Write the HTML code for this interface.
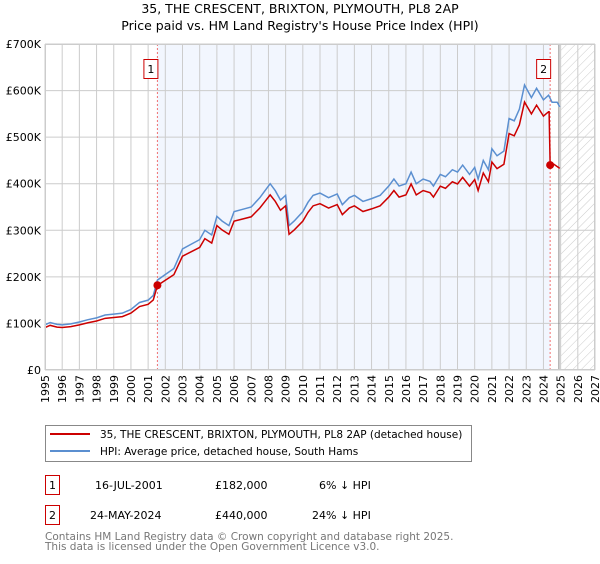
<!DOCTYPE html>
<html><head><meta charset="utf-8"><style>
body{margin:0;background:#fff;font-family:"DejaVu Sans","Liberation Sans",sans-serif;}
svg text{font-family:"DejaVu Sans","Liberation Sans",sans-serif;}
</style></head><body>
<svg id="chart" width="600" height="560" xmlns="http://www.w3.org/2000/svg">
<defs><pattern id="hatch" width="6" height="6" patternUnits="userSpaceOnUse" patternTransform="rotate(45)"><line x1="0" y1="0" x2="0" y2="6" stroke="#ccc" stroke-width="1"/></pattern></defs>
<text x="300" y="13" text-anchor="middle" font-size="12.5">35, THE CRESCENT, BRIXTON, PLYMOUTH, PL8 2AP</text>
<text x="300" y="30" text-anchor="middle" font-size="12.5">Price paid vs. HM Land Registry's House Price Index (HPI)</text>
<g id="plot"></g>
<g>
<rect x="45.5" y="425.5" width="426" height="36" fill="#fff" stroke="#888"/>
<line x1="50" y1="434" x2="90" y2="434" stroke="#cc0000" stroke-width="2"/>
<text x="100" y="438" font-size="10.5">35, THE CRESCENT, BRIXTON, PLYMOUTH, PL8 2AP (detached house)</text>
<line x1="50" y1="451" x2="90" y2="451" stroke="#5b8fd0" stroke-width="2"/>
<text x="100" y="455" font-size="10.5">HPI: Average price, detached house, South Hams</text>
</g>
<g font-size="11">
<rect x="45.5" y="475.5" width="14" height="19" fill="#fff" stroke="#cc0000"/><text x="52.5" y="489" text-anchor="middle">1</text>
<text x="95" y="489">16-JUL-2001</text><text x="215" y="489">£182,000</text><text x="319" y="489">6% ↓ HPI</text>
<rect x="45.5" y="505.5" width="14" height="19" fill="#fff" stroke="#cc0000"/><text x="52.5" y="519" text-anchor="middle">2</text>
<text x="90" y="519">24-MAY-2024</text><text x="215" y="519">£440,000</text><text x="312" y="519">24% ↓ HPI</text>
</g>
<text x="45" y="540" font-size="10.5" fill="#777">Contains HM Land Registry data © Crown copyright and database right 2025.</text>
<text x="45" y="550" font-size="10.5" fill="#777">This data is licensed under the Open Government Licence v3.0.</text>
</svg>
<script>
const hpiYears=[1995,1995.3,1995.7,1996,1996.5,1997,1997.5,1998,1998.5,1999,1999.5,2000,2000.5,2001,2001.3,2001.54,2002,2002.5,2003,2003.5,2004,2004.3,2004.7,2005,2005.3,2005.7,2006,2006.5,2007,2007.5,2007.8,2008.1,2008.4,2008.7,2009,2009.2,2009.5,2010,2010.3,2010.6,2011,2011.5,2012,2012.3,2012.7,2013,2013.5,2014,2014.5,2015,2015.3,2015.6,2016,2016.3,2016.6,2017,2017.4,2017.6,2018,2018.3,2018.7,2019,2019.3,2019.7,2020,2020.2,2020.5,2020.8,2021,2021.3,2021.7,2022,2022.3,2022.6,2022.9,2023.3,2023.6,2024,2024.3,2024.5,2024.8,2024.95];
const hpiValues=[97,102,98,97,99,103,108,112,118,120,122,130,145,150,160,193,205,218,260,270,280,300,290,330,320,310,340,345,350,370,385,400,385,365,375,310,320,340,360,375,380,370,378,355,370,375,362,368,375,395,410,395,400,425,400,410,405,395,420,415,430,425,440,420,435,410,450,430,475,460,470,540,535,560,612,585,605,580,590,575,575,565];
const saleYears=[2001.54,2024.39];
const saleValues=[182,440];
const redTailYears=[2024.39,2024.6,2024.95];
const redTailValues=[440,442,433];
const yTicks=[0,100,200,300,400,500,600,700];
const yTickLabels=['£0','£100K','£200K','£300K','£400K','£500K','£600K','£700K'];
const xTicks=[1995,1996,1997,1998,1999,2000,2001,2002,2003,2004,2005,2006,2007,2008,2009,2010,2011,2012,2013,2014,2015,2016,2017,2018,2019,2020,2021,2022,2023,2024,2025,2026,2027];
const X0=45,X1=595,Y0=370,Y1=44;
const xs=y=>X0+(y-1995)/(2027-1995)*(X1-X0);
const ys=v=>Y0-v/700*(Y0-Y1);
const NS='http://www.w3.org/2000/svg',g=document.getElementById('plot');
function mk(t,a){const e=document.createElementNS(NS,t);for(const k in a)e.setAttribute(k,a[k]);g.appendChild(e);return e;}
let e;
e=mk('rect',{x:xs(saleYears[0]),y:Y1,width:xs(saleYears[1])-xs(saleYears[0]),height:Y0-Y1,fill:'#eef3fd',opacity:0.75});


e=mk('rect',{x:xs(2025),y:Y1,width:X1-xs(2025),height:Y0-Y1,fill:'url(#hatch)'});


xTicks.forEach(t=>{const x=xs(t);e=mk('line',{x1:x,y1:Y1,x2:x,y2:Y0,stroke:'#ccc','stroke-width':1});


e=mk('text',{x:0,y:0,'font-size':11,'text-anchor':'end',transform:`translate(${x+4},${Y0+5}) rotate(-90)`});e.textContent=t;

});
yTicks.forEach((t,i)=>{const y=ys(t);e=mk('line',{x1:X0,y1:y,x2:X1,y2:y,stroke:'#ccc','stroke-width':1});


e=mk('text',{x:X0-4,y:y+4,'font-size':11,'text-anchor':'end'});e.textContent=yTickLabels[i];

});
e=mk('line',{x1:xs(2024.9),y1:Y1,x2:xs(2024.9),y2:Y0,stroke:'#888','stroke-width':1});


saleYears.forEach((s,i)=>{const x=xs(s);e=mk('line',{x1:x,y1:Y1,x2:x,y2:Y0,stroke:'#f07070','stroke-dasharray':'2,2','stroke-width':1});


e=mk('rect',{x:x-13.5,y:59.5,width:14,height:19,fill:'#fff',stroke:'#cc0000'});


e=mk('text',{x:x-6.5,y:73,'font-size':11,'text-anchor':'middle'});e.textContent=i+1;

});
const hp=hpiYears.map((y,i)=>xs(y)+','+ys(hpiValues[i])).join(' ');
const redPts=[];hpiYears.forEach((y,i)=>{if(y<=saleYears[1])redPts.push(xs(y)+','+ys(hpiValues[i]*0.94));});
redPts.push(xs(2024.33)+','+ys(hpiValues[hpiValues.length-4]*0.94));
redTailYears.forEach((y,i)=>redPts.push(xs(y)+','+ys(redTailValues[i])));
e=mk('polyline',{points:hp,fill:'none',stroke:'#5b8fd0','stroke-width':1.5});


e=mk('polyline',{points:redPts.join(' '),fill:'none',stroke:'#cc0000','stroke-width':1.5});


saleYears.forEach((s,i)=>{e=mk('circle',{cx:xs(s),cy:ys(saleValues[i]),r:4,fill:'#cc0000'});

});
e=mk('rect',{x:X0+0.5,y:Y1+0.5,width:X1-X0-1,height:Y0-Y1-1,fill:'none',stroke:'#ccc'});


</script>
</body></html>
